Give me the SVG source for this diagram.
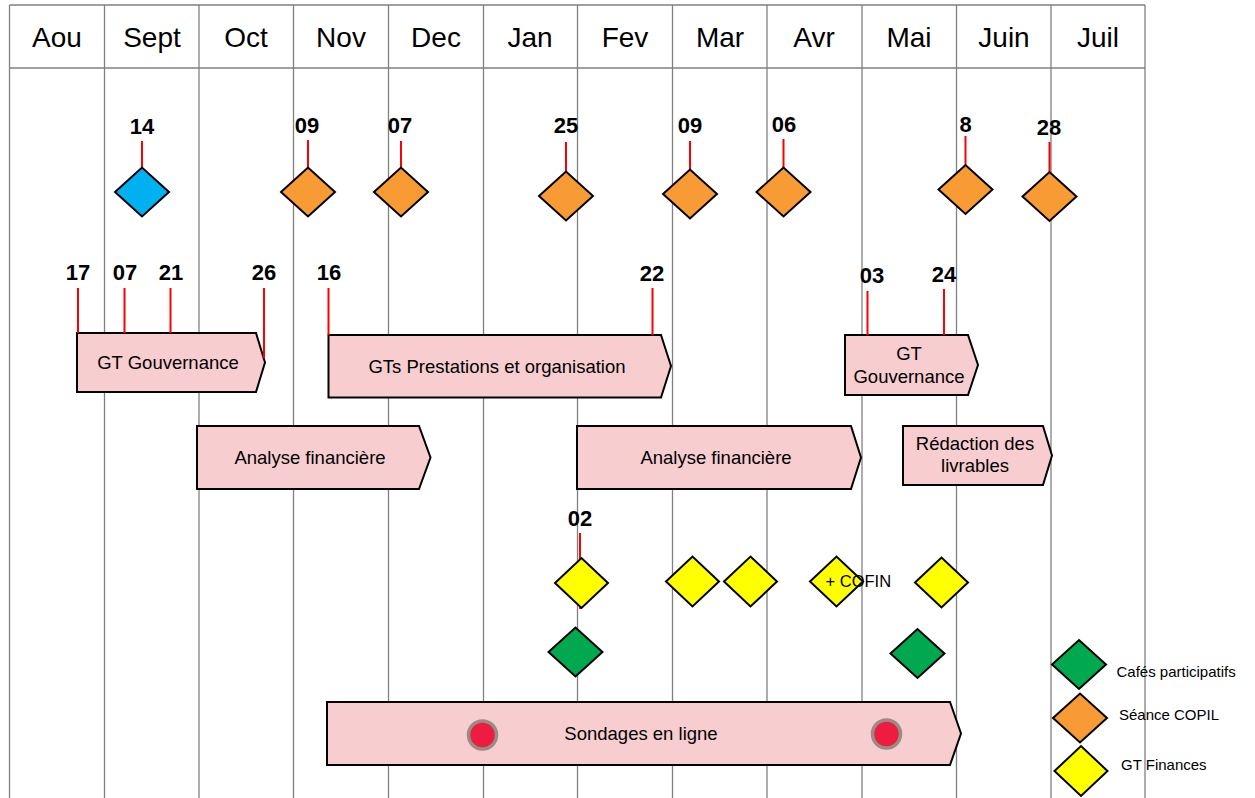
<svg xmlns="http://www.w3.org/2000/svg" width="1255" height="798" viewBox="0 0 1255 798">
<defs>
<style>
.grid{stroke:#808080;stroke-width:1.3;fill:none}
.month{font-family:"Liberation Sans",Arial,sans-serif;font-size:28px;fill:#000;text-anchor:middle}
.num{font-family:"Liberation Sans",Arial,sans-serif;font-size:22px;font-weight:bold;fill:#000;text-anchor:middle}
.tick{stroke:#FF0000;stroke-width:2;fill:none}
.bar{fill:#F7CDD0;stroke:#000;stroke-width:2}
.lbl{font-family:"Liberation Sans",Arial,sans-serif;font-size:18.5px;fill:#000;text-anchor:middle}
.leg{font-family:"Liberation Sans",Arial,sans-serif;font-size:15px;fill:#000}
.dia{stroke:#000;stroke-width:2}
.blue{fill:#00B0F0}
.orange{fill:#F99B35}
.yellow{fill:#FFFF00}
.green{fill:#00A84F}
.dot{fill:#EE1C40;stroke:#9A8C85;stroke-width:3.5}
</style>
<polygon id="dm" points="-27,0 0,-24.5 27,0 0,24.5"/>
<polygon id="dy" points="-26.5,0 0,-25 26.5,0 0,25"/>
</defs>
<rect x="0" y="0" width="1255" height="798" fill="#fff"/>
<g id="grid">
<line class="grid" x1="9.5" y1="5" x2="1145" y2="5"/>
<line class="grid" x1="9.5" y1="68" x2="1145" y2="68"/>
<line class="grid" x1="9.5" y1="5" x2="9.5" y2="798"/>
<line class="grid" x1="104.5" y1="5" x2="104.5" y2="798"/>
<line class="grid" x1="199" y1="5" x2="199" y2="798"/>
<line class="grid" x1="293.5" y1="5" x2="293.5" y2="798"/>
<line class="grid" x1="388.5" y1="5" x2="388.5" y2="798"/>
<line class="grid" x1="483.5" y1="5" x2="483.5" y2="798"/>
<line class="grid" x1="577.5" y1="5" x2="577.5" y2="798"/>
<line class="grid" x1="672.5" y1="5" x2="672.5" y2="798"/>
<line class="grid" x1="767" y1="5" x2="767" y2="798"/>
<line class="grid" x1="862" y1="5" x2="862" y2="798"/>
<line class="grid" x1="956.5" y1="5" x2="956.5" y2="798"/>
<line class="grid" x1="1051" y1="5" x2="1051" y2="798"/>
<line class="grid" x1="1145" y1="5" x2="1145" y2="798"/>
</g>
<g id="months">
<text class="month" x="57" y="47">Aou</text>
<text class="month" x="152" y="47">Sept</text>
<text class="month" x="246" y="47">Oct</text>
<text class="month" x="341" y="47">Nov</text>
<text class="month" x="436" y="47">Dec</text>
<text class="month" x="530" y="47">Jan</text>
<text class="month" x="625" y="47">Fev</text>
<text class="month" x="720" y="47">Mar</text>
<text class="month" x="814" y="47">Avr</text>
<text class="month" x="909" y="47">Mai</text>
<text class="month" x="1004" y="47">Juin</text>
<text class="month" x="1098" y="47">Juil</text>
</g>
<g id="connectors">
<line class="tick" x1="142" y1="141" x2="142" y2="200"/>
<line class="tick" x1="308" y1="140" x2="308" y2="200"/>
<line class="tick" x1="401" y1="141" x2="401" y2="200"/>
<line class="tick" x1="566" y1="142" x2="566" y2="200"/>
<line class="tick" x1="690" y1="141" x2="690" y2="200"/>
<line class="tick" x1="783.5" y1="139" x2="783.5" y2="200"/>
<line class="tick" x1="965.5" y1="136" x2="965.5" y2="200"/>
<line class="tick" x1="1049.5" y1="142" x2="1049.5" y2="200"/>
<line class="tick" x1="580" y1="533" x2="580" y2="609"/>
</g>
<g id="bar-gt-gouvernance-1">
<polygon class="bar" points="77,333 256,333 265,362.5 256,392 77,392"/>
<text class="lbl" x="168" y="369">GT Gouvernance</text>
</g>
<g id="bar-gts-prestations">
<polygon class="bar" points="328.5,335 661,335 671,366 661,397.5 328.5,397.5"/>
<text class="lbl" x="497" y="373">GTs Prestations et organisation</text>
</g>
<g id="bar-gt-gouvernance-2">
<polygon class="bar" points="845,335 968,335 978,365 968,395 845,395"/>
<text class="lbl" x="909" y="360">GT</text>
<text class="lbl" x="909" y="383">Gouvernance</text>
</g>
<g id="bar-analyse-1">
<polygon class="bar" points="197,426 419,426 430.5,457.5 419,489 197,489"/>
<text class="lbl" x="310" y="464">Analyse financière</text>
</g>
<g id="bar-analyse-2">
<polygon class="bar" points="577,426 851,426 861,457.5 851,489 577,489"/>
<text class="lbl" x="716" y="464">Analyse financière</text>
</g>
<g id="bar-redaction">
<polygon class="bar" points="903,426 1043,426 1052,455.5 1043,485 903,485"/>
<text class="lbl" x="975" y="450">Rédaction des</text>
<text class="lbl" x="975" y="472">livrables</text>
</g>
<g id="bar-sondages">
<polygon class="bar" points="327,702 950,702 961,733.5 950,765 327,765"/>
<text class="lbl" x="641" y="740">Sondages en ligne</text>
<circle class="dot" cx="482.5" cy="735" r="14"/>
<circle class="dot" cx="886.5" cy="734" r="14"/>
</g>
<g id="row2-ticks">
<line class="tick" x1="78" y1="288" x2="78" y2="333"/>
<line class="tick" x1="124.5" y1="288" x2="124.5" y2="333"/>
<line class="tick" x1="170.5" y1="288" x2="170.5" y2="333"/>
<line class="tick" x1="264" y1="288" x2="264" y2="358"/>
<line class="tick" x1="328.5" y1="288" x2="328.5" y2="335"/>
<line class="tick" x1="652.5" y1="288" x2="652.5" y2="335"/>
<line class="tick" x1="867.5" y1="291" x2="867.5" y2="335"/>
<line class="tick" x1="944" y1="289" x2="944" y2="335"/>
</g>
<g id="row2-labels">
<text class="num" x="78" y="280">17</text>
<text class="num" x="125" y="280">07</text>
<text class="num" x="171" y="280">21</text>
<text class="num" x="264" y="280">26</text>
<text class="num" x="329" y="280">16</text>
<text class="num" x="652" y="281">22</text>
<text class="num" x="872" y="283">03</text>
<text class="num" x="944" y="282">24</text>
</g>
<g id="copil-milestones">
<g id="m-14"><text class="num" x="142" y="134">14</text><use href="#dm" x="142" y="192" class="dia blue"/></g>
<g id="m-09-nov"><text class="num" x="307" y="133">09</text><use href="#dm" x="308" y="192" class="dia orange"/></g>
<g id="m-07-dec"><text class="num" x="400" y="133">07</text><use href="#dm" x="401" y="192" class="dia orange"/></g>
<g id="m-25-jan"><text class="num" x="566" y="133">25</text><use href="#dm" x="566" y="196" class="dia orange"/></g>
<g id="m-09-mar"><text class="num" x="690" y="133">09</text><use href="#dm" x="690" y="194" class="dia orange"/></g>
<g id="m-06-avr"><text class="num" x="784" y="132">06</text><use href="#dm" x="783.5" y="192" class="dia orange"/></g>
<g id="m-8-mai"><text class="num" x="965.5" y="132">8</text><use href="#dm" x="965.5" y="189.5" class="dia orange"/></g>
<g id="m-28-juin"><text class="num" x="1049" y="135">28</text><use href="#dm" x="1049.5" y="196.5" class="dia orange"/></g>
</g>
<g id="gt-finances">
<g id="f-02"><text class="num" x="580" y="526">02</text><use href="#dy" x="581.5" y="583" class="dia yellow"/></g>
<g id="f-2"><use href="#dy" x="692.5" y="581.5" class="dia yellow"/></g>
<g id="f-3"><use href="#dy" x="750.5" y="581.5" class="dia yellow"/></g>
<g id="f-4"><use href="#dy" x="836.5" y="581.5" class="dia yellow"/><text x="825.5" y="587" font-family="Liberation Sans, Arial, sans-serif" font-size="16.5" fill="#000">+ COFIN</text></g>
<g id="f-5"><use href="#dy" x="941.5" y="582.5" class="dia yellow"/></g>
</g>
<g id="cafes">
<g id="c-1"><use href="#dm" x="575.5" y="652" class="dia green"/></g>
<g id="c-2"><use href="#dm" x="917.5" y="653.5" class="dia green"/></g>
</g>
<g id="legend">
<g id="leg-cafes"><use href="#dm" x="1079" y="664.5" class="dia green"/><text class="leg" x="1116.5" y="677">Cafés participatifs</text></g>
<g id="leg-copil"><use href="#dm" x="1080" y="718" class="dia orange"/><text class="leg" x="1119" y="720">Séance COPIL</text></g>
<g id="leg-finances"><use href="#dy" x="1081" y="771" class="dia yellow"/><text class="leg" x="1121" y="770">GT Finances</text></g>
</g>
</svg>
